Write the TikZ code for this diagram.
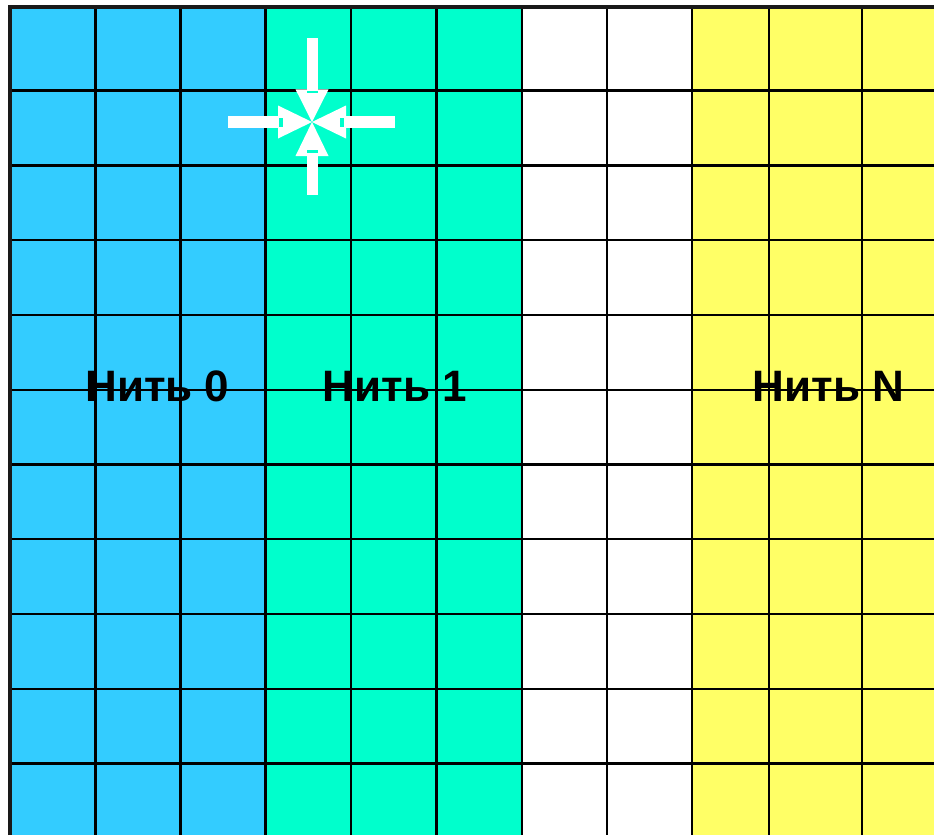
\documentclass[tikz,border=0pt]{standalone}
\usepackage{fontspec}
\setmainfont{Liberation Sans}
\definecolor{cblue}{HTML}{33CCFF}
\definecolor{cteal}{HTML}{00FFCC}
\definecolor{cyel}{HTML}{FFFF66}
\tikzset{
  gridline/.style={draw=black, line width=2.2pt},
  border/.style={draw=black!90, line width=4pt},
  arrowpart/.style={fill=white, draw=none},
  notch/.style={fill=cteal, draw=none},
  lbl/.style={font=\fontsize{44}{53}\selectfont\bfseries, text=black, inner sep=0pt, anchor=base}
}
\begin{document}
\begin{tikzpicture}[x=1pt,y=-1pt]
\useasboundingbox (0,0) rectangle (934,835);
\fill[white] (0,0) rectangle (934,835);
% column fills
\fill[cblue] (10,7) rectangle (265.5,835);
\fill[cteal] (265.5,7) rectangle (521.7,835);
\fill[cyel] (692,7) rectangle (934,835);
% grid
\foreach \x in {95.5,180.5,265.5,351,436.5,521.7,606.7,692,769,862}
  \draw[gridline] (\x,7) -- (\x,835);
\foreach \y in {90.5,165.5,240,315,390,464.5,539,614,689,763.5}
  \draw[gridline] (10,\y) -- (934,\y);
% border
\draw[border] (10,835) -- (10,7) -- (934,7);
% converging arrows
\fill[arrowpart] (306.7,38) rectangle (318.3,89.5);
\fill[arrowpart] (295.5,89.3) -- (328.5,89.3) -- (312,122) -- cycle;
\fill[notch] (307,91) rectangle (318,93.3);
\fill[arrowpart] (306.7,156) rectangle (318.3,195);
\fill[arrowpart] (295.5,156) -- (328.5,156) -- (312,122) -- cycle;
\fill[notch] (307,150) rectangle (318,153.3);
\fill[arrowpart] (228.3,116) rectangle (278,128);
\fill[arrowpart] (278,105.5) -- (278,138.5) -- (312,122) -- cycle;
\fill[notch] (279.3,117.7) rectangle (283.3,126.7);
\fill[arrowpart] (346,116) rectangle (395,128);
\fill[arrowpart] (346,105.5) -- (346,138.5) -- (312,122) -- cycle;
\fill[notch] (340.3,117.7) rectangle (344.3,126.7);
% labels
\node[lbl] (t0) at (157.3,401.7) {Нить 0};
\node[lbl] (t1) at (395,401.7) {Нить 1};
\node[lbl] (tn) at (828.5,401.7) {Нить N};
\end{tikzpicture}
\end{document}
